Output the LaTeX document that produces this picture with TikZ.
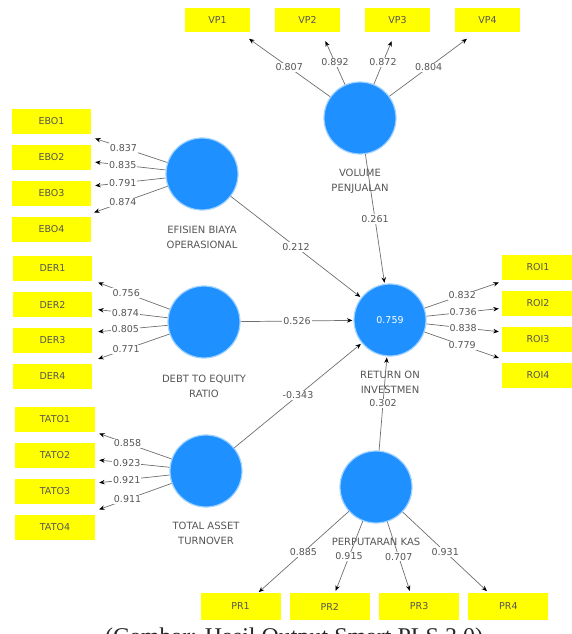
\documentclass[tikz,border=0pt]{standalone}
\usepackage{fontspec}
\newfontfamily\plsfont{DejaVu Sans}
\newfontfamily\capfont{Liberation Serif}
\usetikzlibrary{arrows.meta,positioning}
\definecolor{lvblue}{RGB}{30,144,255}
\definecolor{lvrim}{RGB}{160,210,255}
\definecolor{indyellow}{RGB}{255,255,0}
\definecolor{pathgray}{RGB}{110,110,110}
\definecolor{txtgray}{RGB}{85,85,85}

\begin{document}
\begin{tikzpicture}[x=1pt,y=-1pt,>={Stealth[length=5.5pt,width=4.5pt,color=black]},shorten >=1pt,node distance=36pt,
  font=\plsfont\fontsize{9.5}{11}\selectfont,
  lv/.style={circle,fill=lvblue,draw=lvrim,line width=1.2pt,minimum size=72pt,inner sep=0pt,text=white},
  ind/.style={rectangle,fill=indyellow,minimum width=79pt,minimum height=25pt,inner sep=0pt,text=txtgray},
  lvname/.style={align=center,text=txtgray,inner sep=0pt,font=\plsfont\fontsize{10}{15}\selectfont},
  coef/.style={fill=white,inner sep=1pt,text=txtgray},
  lcoef/.style={coef,pos=.6},
  every edge/.style={draw=pathgray,line width=0.7pt}]

\useasboundingbox (0,0) rectangle (572,634);

% latent variables
\node[lv] (vp)   at (360,118) {};
\node[lv] (ebo)  at (202,174) {};
\node[lv] (der)  at (204,322) {};
\node[lv] (tato) at (206,471) {};
\node[lv] (roi)  at (390,320) {0.759};
\node[lv] (pr)   at (376,487) {};

\node[lvname,below=14pt of vp]   (vpname)   {VOLUME\\PENJUALAN};
\node[lvname,below=15pt of ebo]  (eboname)  {EFISIEN BIAYA\\OPERASIONAL};
\node[lvname,below=16pt of der]  (dername)  {DEBT TO EQUITY\\RATIO};
\node[lvname,below=14pt of tato] (tatoname) {TOTAL ASSET\\TURNOVER};
\node[lvname,below=14pt of roi]  (roiname)  {RETURN ON\\INVESTMEN};
\node[lvname,below=14pt of pr]   (prname)   {PERPUTARAN KAS};

% indicators
\node[ind,minimum width=65pt,minimum height=24pt] (VP1) at (217.5,20) {VP1};
\node[ind,minimum width=65pt,minimum height=24pt,node distance=90pt] (VP2) [right of=VP1] {VP2};
\node[ind,minimum width=65pt,minimum height=24pt,node distance=90pt] (VP3) [right of=VP2] {VP3};
\node[ind,minimum width=65pt,minimum height=24pt,node distance=90pt] (VP4) [right of=VP3] {VP4};

\node[ind] (EBO1) at (51.5,121.5) {EBO1};
\node[ind] (EBO2) [below of=EBO1] {EBO2};
\node[ind] (EBO3) [below of=EBO2] {EBO3};
\node[ind] (EBO4) [below of=EBO3] {EBO4};

\node[ind] (DER1) at (52.5,268.5) {DER1};
\node[ind] (DER2) [below of=DER1] {DER2};
\node[ind] (DER3) [below of=DER2] {DER3};
\node[ind] (DER4) [below of=DER3] {DER4};

\node[ind,minimum width=80pt] (TATO1) at (55,419.5) {TATO1};
\node[ind,minimum width=80pt] (TATO2) [below of=TATO1] {TATO2};
\node[ind,minimum width=80pt] (TATO3) [below of=TATO2] {TATO3};
\node[ind,minimum width=80pt] (TATO4) [below of=TATO3] {TATO4};

\node[ind,minimum width=72pt] (ROI1) at (538,267.5) {ROI1};
\node[ind,minimum width=72pt] (ROI2) [below of=ROI1] {ROI2};
\node[ind,minimum width=72pt] (ROI3) [below of=ROI2] {ROI3};
\node[ind,minimum width=72pt] (ROI4) [below of=ROI3] {ROI4};

\node[ind,minimum width=80pt,minimum height=27pt] (PR1) at (240.5,606.5) {PR1};
\node[ind,minimum width=80pt,minimum height=27pt,node distance=89.3pt] (PR2) [right of=PR1] {PR2};
\node[ind,minimum width=80pt,minimum height=27pt,node distance=89.3pt] (PR3) [right of=PR2] {PR3};
\node[ind,minimum width=80pt,minimum height=27pt,node distance=89.3pt] (PR4) [right of=PR3] {PR4};

\path[->] (vp)   edge node[coef]{0.807} ([shift={(-2,6)}]VP1.south east)
                 edge node[coef]{0.892} ([shift={(17.5,8)}]VP2.south)
                 edge node[coef]{0.872} ([shift={(-5.5,8)}]VP3.south)
                 edge node[coef]{0.804} ([shift={(13,6)}]VP4.south west)
                 edge node[coef]{0.261} (roi)
          (ebo)  edge node[lcoef]{0.837} ([shift={(3,4)}]EBO1.south east)
                 edge node[lcoef]{0.835} ([shift={(3,4.5)}]EBO2.east)
                 edge node[lcoef]{0.791} ([shift={(3,5)}]EBO3.north east)
                 edge node[lcoef]{0.874} ([shift={(2,-4)}]EBO4.north east)
                 edge node[coef]{0.212} (roi)
          (der)  edge node[lcoef]{0.756} ([shift={(5,1)}]DER1.south east)
                 edge node[lcoef]{0.874} ([shift={(5,5)}]DER2.east)
                 edge node[lcoef]{0.805} ([shift={(5,4)}]DER3.north east)
                 edge node[lcoef]{0.771} ([shift={(5,-4.5)}]DER4.north east)
                 edge node[coef]{0.526} (roi)
          (tato) edge node[lcoef]{0.858} ([shift={(3,1)}]TATO1.south east)
                 edge node[lcoef]{0.923} ([shift={(3,4.5)}]TATO2.east)
                 edge node[lcoef]{0.921} ([shift={(3,4)}]TATO3.north east)
                 edge node[lcoef]{0.911} ([shift={(3,-5)}]TATO4.north east)
                 edge node[coef]{-0.343} (roi)
          (roi)  edge node[coef]{0.832} ([shift={(-2,2)}]ROI1.south west)
                 edge node[coef]{0.736} ([shift={(-2,5)}]ROI2.west)
                 edge node[coef]{0.838} ([shift={(-2,5)}]ROI3.north west)
                 edge node[coef]{0.779} ([shift={(-2,-4.5)}]ROI4.north west)
          (pr)   edge node[coef]{0.885} ([shift={(17.5,0)}]PR1.north)
                 edge node[coef]{0.915} ([shift={(5.5,-1)}]PR2.north)
                 edge node[coef]{0.707} ([shift={(-9,-1)}]PR3.north)
                 edge node[coef]{0.931} ([shift={(19.5,-1)}]PR4.north west)
                 edge node[coef]{0.302} (roi);

% caption, cut by the page edge
\node[font=\capfont\fontsize{24}{28}\selectfont,anchor=base,inner sep=0pt,text=black!85] (caption) at (294,644) {(Gambar: Hasil Output Smart PLS 3.0)};

\end{tikzpicture}
\end{document}
